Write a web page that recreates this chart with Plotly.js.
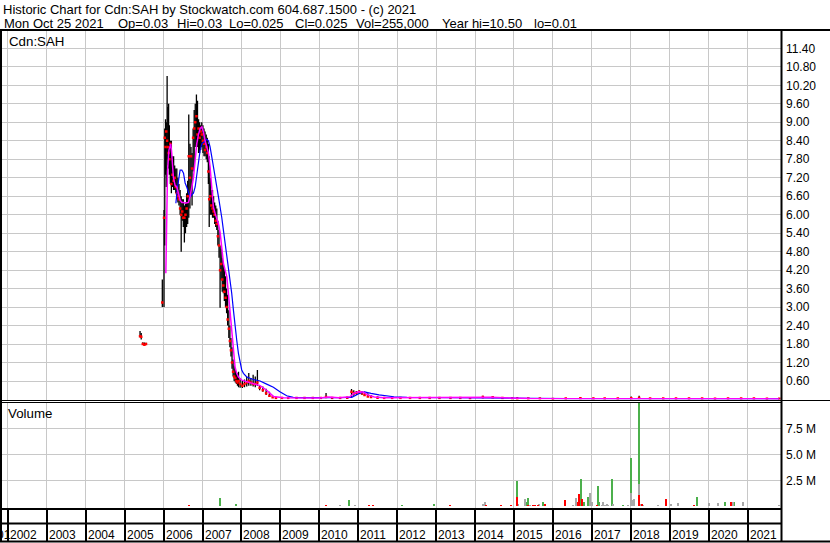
<!DOCTYPE html>
<html><head><meta charset="utf-8">
<script src="https://cdn.plot.ly/plotly-3.0.1.min.js"></script>
<style>html,body{margin:0;padding:0;background:#fff}#chart{width:830px;height:543px}</style>
</head><body><div id="chart"></div>
<script>
// ---------- DATA ----------
const priceDates = ["2005-05-25","2005-06-05","2005-06-20","2005-07-05","2005-07-20",
"2005-12-20","2006-01-05","2006-01-12","2006-01-19","2006-01-26","2006-02-03","2006-02-10","2006-02-17","2006-02-24",
"2006-03-05","2006-03-15","2006-03-25","2006-04-05","2006-04-15","2006-04-25","2006-05-05","2006-05-15","2006-05-25",
"2006-06-05","2006-06-15","2006-06-25","2006-07-05","2006-07-15","2006-07-25","2006-08-05","2006-08-15","2006-08-25",
"2006-09-05","2006-09-15","2006-09-25","2006-10-05","2006-10-15","2006-10-25","2006-11-05","2006-11-15","2006-11-25",
"2006-12-05","2006-12-15","2006-12-25","2007-01-05","2007-01-15","2007-01-25","2007-02-05","2007-02-15","2007-02-25",
"2007-03-05","2007-03-15","2007-03-25","2007-04-05","2007-04-15","2007-04-25","2007-05-05","2007-05-15","2007-05-25",
"2007-06-05","2007-06-15","2007-06-25","2007-07-05","2007-07-15","2007-07-25","2007-08-05","2007-08-15","2007-08-25",
"2007-09-05","2007-09-15","2007-09-25","2007-10-05","2007-10-15","2007-10-25","2007-11-05","2007-11-15","2007-11-25",
"2007-12-05","2007-12-20","2008-01-10","2008-01-30","2008-02-20","2008-03-10","2008-03-30","2008-04-20","2008-05-10",
"2008-05-30","2008-06-20","2008-07-20","2008-08-20","2008-09-20","2008-10-20","2008-11-20","2009-01-15",
"2009-03-15","2009-06-01","2009-08-15","2009-11-01","2010-01-15","2010-03-05","2010-05-01","2010-07-15","2010-09-20",
"2010-10-30","2010-11-20","2010-12-15","2011-01-10","2011-02-05","2011-03-01","2011-04-01","2011-05-01","2011-07-01",
"2011-09-01","2011-11-15","2012-02-01","2012-05-01","2012-08-01","2012-11-01","2013-02-01","2013-05-15","2013-08-15",
"2013-11-15","2014-03-15","2014-06-15","2014-09-15","2014-12-15","2015-02-01","2015-05-15","2015-09-01","2016-01-01",
"2016-05-01","2016-09-15","2017-01-15","2017-05-01","2017-09-01","2018-01-05","2018-03-20","2018-07-01","2018-11-01",
"2019-03-01","2019-07-01","2019-11-01","2020-03-01","2020-07-01","2020-11-01","2021-03-01","2021-07-01","2021-10-25"];
const priceHigh = [2.22,2.16,1.86,1.85,1.84,
3.90,6.15,8.80,9.10,9.00,10.50,9.50,9.60,8.90,
8.40,8.40,7.90,7.90,7.60,7.50,7.50,7.20,7.00,
6.80,6.60,6.50,6.50,6.30,6.40,6.70,7.10,9.25,
8.30,8.20,8.00,8.80,9.40,9.60,9.90,9.70,9.10,
9.00,8.90,9.00,8.90,8.80,8.70,8.60,8.50,8.30,
7.90,7.20,6.80,6.80,6.60,6.40,6.30,6.20,5.80,
5.50,5.00,4.90,4.60,4.40,4.30,4.00,3.60,3.40,
2.90,2.40,2.00,1.70,1.30,1.10,1.00,0.90,0.85,
0.90,0.70,0.60,0.65,0.75,0.86,0.70,0.80,0.75,
0.96,0.45,0.42,0.35,0.25,0.12,0.08,0.06,
0.06,0.06,0.07,0.06,0.06,0.21,0.08,0.07,0.09,
0.34,0.30,0.28,0.30,0.28,0.25,0.20,0.15,0.10,
0.08,0.07,0.07,0.07,0.06,0.07,0.06,0.07,0.06,
0.06,0.12,0.09,0.07,0.06,0.08,0.05,0.04,0.04,
0.05,0.08,0.06,0.05,0.04,0.10,0.12,0.05,0.04,
0.04,0.04,0.04,0.04,0.05,0.04,0.04,0.04,0.03];
const priceLow = [2.02,1.95,1.77,1.76,1.77,
3.00,3.00,5.00,7.30,6.90,7.80,7.60,7.50,7.30,
7.00,6.70,6.90,6.80,6.80,6.70,6.50,6.40,6.30,
6.00,4.80,5.80,5.60,5.10,5.40,5.60,5.70,5.90,
6.20,6.60,6.30,7.40,7.50,8.20,8.30,8.20,8.00,
8.00,8.10,8.20,8.00,7.90,7.90,7.80,7.70,7.00,
5.60,6.00,6.00,5.90,5.90,5.70,5.60,5.50,5.00,
4.60,2.98,3.90,3.50,3.45,3.20,3.00,2.80,2.40,
2.00,1.70,1.40,1.00,0.75,0.60,0.55,0.50,0.45,
0.40,0.38,0.37,0.40,0.42,0.45,0.45,0.42,0.40,
0.45,0.30,0.25,0.15,0.08,0.05,0.03,0.03,
0.03,0.04,0.04,0.04,0.04,0.05,0.04,0.04,0.04,
0.08,0.12,0.15,0.18,0.15,0.12,0.08,0.06,0.05,
0.04,0.04,0.04,0.04,0.04,0.04,0.04,0.04,0.04,
0.03,0.04,0.05,0.04,0.03,0.02,0.02,0.02,0.02,
0.02,0.02,0.02,0.02,0.02,0.02,0.03,0.02,0.02,
0.02,0.02,0.02,0.02,0.02,0.02,0.02,0.02,0.025];
const priceClose = [2.05,2.04,1.80,1.78,1.80,
3.15,5.90,8.50,8.20,8.70,8.40,8.20,8.00,7.80,
8.30,7.00,7.30,7.10,7.20,6.90,6.70,6.60,6.50,
6.20,6.00,6.10,5.90,5.90,6.00,6.20,6.60,7.90,
7.20,7.90,7.50,8.50,8.80,9.00,9.20,8.60,8.80,
8.50,8.70,8.60,8.40,8.30,8.10,8.20,8.00,7.40,
6.50,6.60,6.30,6.20,6.10,6.00,5.80,5.70,5.30,
5.00,4.20,4.40,3.90,3.70,3.50,3.30,3.00,2.60,
2.30,1.90,1.60,1.20,0.90,0.75,0.70,0.60,0.55,
0.60,0.50,0.45,0.50,0.55,0.60,0.55,0.50,0.50,
0.55,0.38,0.30,0.20,0.12,0.07,0.05,0.05,
0.05,0.05,0.05,0.05,0.05,0.08,0.05,0.05,0.06,
0.25,0.20,0.22,0.25,0.20,0.15,0.10,0.08,0.06,
0.05,0.05,0.05,0.05,0.05,0.05,0.05,0.05,0.05,
0.04,0.08,0.07,0.05,0.04,0.03,0.03,0.03,0.02,
0.03,0.04,0.03,0.03,0.03,0.04,0.05,0.03,0.03,
0.03,0.03,0.03,0.025,0.03,0.03,0.03,0.025,0.025];

const maFastDates = ["2006-01-22","2006-01-30","2006-02-07","2006-02-20","2006-03-09","2006-03-18","2006-04-03","2006-04-19",
"2006-05-05","2006-06-05","2006-06-21","2006-07-07","2006-07-22","2006-08-22","2006-09-07","2006-09-23","2006-10-08",
"2006-10-24","2006-11-08","2006-11-24","2006-12-10","2006-12-26","2007-01-10","2007-01-25","2007-02-10","2007-02-26",
"2007-03-13","2007-03-28","2007-04-13","2007-04-29","2007-05-15","2007-05-31","2007-06-16","2007-07-01","2007-07-16",
"2007-08-01","2007-08-17","2007-09-01","2007-09-17","2007-10-02","2007-10-18","2007-11-02","2007-11-18","2007-12-04",
"2008-01-04","2008-02-20","2008-04-22","2008-06-24","2008-08-25","2008-10-27","2009-01-29","2009-06-01","2010-01-01",
"2010-04-01","2010-07-01","2010-10-15","2010-11-20","2011-01-01","2011-02-15","2011-04-01","2011-06-01","2011-09-01",
"2012-06-01","2013-06-01","2014-06-01","2015-06-01","2016-06-01","2017-06-01","2018-06-01","2019-06-01","2020-06-01","2021-10-25"];
const maFastVals = [4.1,6.0,7.4,8.1,8.3,8.0,7.2,6.95,
6.9,6.47,6.4,6.4,6.37,6.4,6.6,6.9,7.2,
7.77,8.3,8.6,8.8,8.85,8.68,8.4,8.2,8.0,
7.55,6.8,6.25,6.05,5.9,5.7,5.4,4.95,4.43,
4.2,3.98,3.45,2.8,2.04,1.5,1.06,0.85,0.73,
0.63,0.58,0.53,0.45,0.3,0.1,0.06,0.05,0.05,
0.08,0.06,0.09,0.2,0.25,0.24,0.15,0.08,0.06,
0.06,0.06,0.07,0.03,0.03,0.03,0.03,0.02,0.02,0.02];

const maSlowDates = ["2006-04-26","2006-05-12","2006-06-05","2006-06-21","2006-07-07","2006-07-22","2006-08-06","2006-08-22",
"2006-09-07","2006-09-23","2006-10-08","2006-10-24","2006-11-08","2006-11-24","2006-12-10","2006-12-26","2007-01-10",
"2007-01-25","2007-02-10","2007-02-26","2007-03-13","2007-03-28","2007-04-13","2007-04-29","2007-05-15","2007-05-31",
"2007-06-16","2007-07-01","2007-07-16","2007-08-01","2007-08-17","2007-09-01","2007-09-17","2007-10-02","2007-10-18",
"2007-11-02","2007-11-18","2007-12-04","2007-12-20","2008-01-04","2008-01-20","2008-02-20","2008-04-22","2008-06-24",
"2008-08-25","2008-10-27","2008-12-27","2009-03-01","2009-05-01","2009-07-01","2010-06-01","2010-11-01","2011-01-01",
"2011-03-01","2011-05-01","2011-07-15","2011-12-01","2012-04-01","2013-06-01","2014-06-01","2015-06-01","2016-06-01",
"2017-06-01","2018-06-01","2019-06-01","2020-06-01","2021-10-25"];
const maSlowVals = [6.37,6.9,7.45,7.45,7.35,7.03,6.9,6.7,
6.57,6.65,6.7,6.9,7.3,7.77,8.1,8.3,8.35,
8.4,8.45,8.4,8.2,7.9,7.55,7.1,6.9,6.57,
6.25,5.9,5.5,5.08,4.76,4.3,3.88,3.45,2.9,
2.36,1.93,1.5,1.18,0.96,0.85,0.73,0.65,0.6,
0.5,0.4,0.25,0.12,0.07,0.06,0.06,0.07,0.18,
0.25,0.2,0.15,0.09,0.07,0.06,0.06,0.04,0.03,
0.03,0.03,0.02,0.02,0.02];

const volUpDates = ["2007-06-17","2007-11-07","2010-10-10","2011-11-10","2012-02-19","2012-04-19","2012-06-23","2012-12-13",
"2015-01-27","2015-02-27","2015-04-30","2015-05-13","2015-10-04","2016-09-19","2016-10-19","2016-11-29","2017-02-28",
"2017-03-09","2017-07-10","2017-10-23","2017-11-17","2018-01-01","2018-03-17","2019-09-15","2020-06-07","2020-08-24"];
const volUpVals = [800000,200000,600000,80000,100000,80000,80000,200000,
2440000,60000,380000,800000,420000,2630000,380000,900000,1960000,
380000,2630000,130000,60000,4710000,10300000,900000,450000,380000];

const volDownDates = ["2006-08-26","2010-03-05","2011-04-16","2011-05-17","2013-05-12","2013-10-07","2014-04-10","2014-05-30",
"2014-08-29","2014-12-01","2015-01-27","2015-05-16","2015-07-02","2015-07-17","2015-08-18","2015-10-19","2016-02-21",
"2016-04-24","2016-08-22","2016-09-06","2016-09-28","2017-02-16","2018-03-17","2018-04-20","2018-11-27","2019-05-10",
"2019-05-25","2019-08-18","2020-07-28"];
const volDownVals = [100000,100000,130000,130000,150000,80000,100000,60000,
100000,100000,930000,100000,130000,100000,130000,220000,50000,
600000,420000,1150000,700000,130000,1090000,220000,700000,50000,
60000,160000,420000];

const volFlatDates = ["2010-07-13","2010-11-28","2014-03-18","2014-04-01","2015-02-11","2015-04-15","2015-06-01","2015-08-27",
"2016-06-10","2016-07-11","2016-08-06","2016-11-07","2016-12-15","2017-01-03","2017-04-04","2017-04-19","2017-05-05",
"2017-05-21","2017-06-05","2017-07-22","2017-09-07","2017-12-09","2018-01-01","2018-01-20","2018-02-04","2018-03-17",
"2018-03-29","2018-04-29","2018-08-26","2018-09-17","2019-01-11","2019-03-17","2019-11-28","2020-01-02","2020-03-27",
"2020-08-21","2020-11-19","2021-10-07","2021-10-22"];
const volFlatVals = [150000,100000,220000,380000,200000,700000,100000,220000,
60000,130000,800000,60000,1280000,450000,130000,420000,130000,
220000,130000,220000,60000,130000,1280000,600000,700000,2150000,
220000,130000,60000,130000,220000,320000,60000,320000,320000,
450000,420000,60000,130000];

const priceTickVals = [0.6,1.2,1.8,2.4,3.0,3.6,4.2,4.8,5.4,6.0,6.6,7.2,7.8,8.4,9.0,9.6,10.2,10.8,11.4];
const volTickVals = [2500000,5000000,7500000];
const volTickText = ["2.5 M","5.0 M","7.5 M"];
const yearLabels = ["2002","2003","2004","2005","2006","2007","2008","2009","2010","2011","2012","2013","2014","2015","2016","2017","2018","2019","2020","2021"];

const headerLine1 = "Historic Chart for Cdn:SAH by Stockwatch.com 604.687.1500 - (c) 2021";
const headerFields = ["Mon Oct 25 2021","Op=0.03","Hi=0.03","Lo=0.025","Cl=0.025","Vol=255,000","Year hi=10.50","lo=0.01"];

// ---------- LAYOUT HELPERS ----------
const W = 830, H = 543, ML = 2, MR = 49, MT = 31, MB = 34;
const PW = W - ML - MR, PH = H - MT - MB;
const xp = px => (px - ML) / PW;
const yp = py => (H - MB - py) / PH;
const FONT = "Liberation Sans, Arial, sans-serif";
const nb = s => s.replace(/ /g, "\u00a0");

// price bars built from arrays
const hlX = [], hlY = [];
priceDates.forEach((d, i) => { hlX.push(d, d, null); hlY.push(priceLow[i], priceHigh[i], null); });

const barW = 1.6e9;
const traces = [
  {type:"scatter", mode:"lines", x:hlX, y:hlY, line:{color:"#000", width:1.3}, xaxis:"x", yaxis:"y", connectgaps:false},
  {type:"scatter", mode:"markers", x:priceDates, y:priceClose, marker:{symbol:"square", size:2.5, color:"#ff0000", line:{width:0}}, xaxis:"x", yaxis:"y"},
  {type:"scatter", mode:"lines", x:maSlowDates, y:maSlowVals, line:{color:"#0000ff", width:1.2}, xaxis:"x", yaxis:"y"},
  {type:"scatter", mode:"lines", x:maFastDates, y:maFastVals, line:{color:"#ff00ff", width:1.5}, xaxis:"x", yaxis:"y"},
  {type:"bar", x:volUpDates, y:volUpVals, width:barW, marker:{color:"#4cb04c", line:{width:0}}, xaxis:"x", yaxis:"y2"},
  {type:"bar", x:volFlatDates, y:volFlatVals, width:barW, marker:{color:"#a8a8a8", line:{width:0}}, xaxis:"x", yaxis:"y2"},
  {type:"bar", x:volDownDates, y:volDownVals, width:barW, marker:{color:"#ff0000", line:{width:0}}, xaxis:"x", yaxis:"y2"}
];

const line = (x0, y0, x1, y1, w) => ({type:"line", xref:"paper", yref:"paper", x0:xp(x0), y0:yp(y0), x1:xp(x1), y1:yp(y1), line:{color:"#000", width:w}, layer:"above"});
const shapes = [
  line(0, 30, 830, 30, 2),
  line(1, 30, 1, 542, 2),
  line(781.5, 30, 781.5, 542, 2),
  line(0, 400.5, 830, 400.5, 1),
  line(0, 402.5, 781.5, 402.5, 1),
  line(0, 509, 781.5, 509, 2),
  line(0, 523.5, 781.5, 523.5, 2),
  line(0, 541.5, 830, 541.5, 2)
];

const HF = 13;
const ann = (text, px, py, extra) => Object.assign({text:nb(text), xref:"paper", yref:"paper", x:xp(px), y:yp(py), xanchor:"left", yanchor:"middle", showarrow:false, borderpad:0, font:{family:FONT, size:HF, color:"#000"}}, extra || {});
const fieldX = [3, 117, 176, 228, 294, 355, 441, 533];
const annotations = [
  ann(headerLine1, 2, 9.2),
  ann("Cdn:SAH", 8, 42, {font:{family:FONT, size:13.3, color:"#000"}}),
  ann("Volume", 7, 413, {font:{family:FONT, size:13.3, color:"#000"}}),
  ann("01", 11.5, 534.5, {xanchor:"right", font:{family:FONT, size:12, color:"#000"}})
];
headerFields.forEach((t, i) => annotations.push(ann(t, fieldX[i], 24)));
yearLabels.forEach(y => annotations.push({text:y, xref:"x", yref:"paper", x:y + "-01-01", y:yp(534.5), xanchor:"left", yanchor:"middle", xshift:1, borderpad:0, showarrow:false, font:{family:FONT, size:12, color:"#000"}}));

const layout = {
  width:W, height:H,
  margin:{l:ML, r:MR, t:MT, b:MB, pad:0},
  paper_bgcolor:"#fff", plot_bgcolor:"#fff",
  showlegend:false, hovermode:false, barmode:"overlay", bargap:0,
  font:{family:FONT, size:12, color:"#000"},
  xaxis:{type:"date", range:["2001-11-07","2021-11-10"], tickmode:"linear", tick0:"2002-01-01", dtick:"M12",
         showgrid:true, gridcolor:"#c8c8c8", gridwidth:1, ticks:"outside", ticklen:32, tickwidth:2, tickcolor:"#000",
         showticklabels:false, showline:false, zeroline:false, anchor:"y2"},
  yaxis:{domain:[yp(399.5), 1], range:[0, 11.964], side:"right", tickmode:"array", tickvals:priceTickVals, tickformat:".2f",
         showgrid:true, gridcolor:"#c8c8c8", gridwidth:1, ticks:"", showline:false, zeroline:false, ticklabelstandoff:4,
         tickfont:{family:FONT, size:12, color:"#000"}, anchor:"x"},
  yaxis2:{domain:[0, yp(402)], range:[-256000, 10090000], side:"right", tickmode:"array", tickvals:volTickVals, ticktext:volTickText,
          showgrid:true, gridcolor:"#c8c8c8", gridwidth:1, ticks:"", showline:false, zeroline:false, ticklabelstandoff:4,
          tickfont:{family:FONT, size:12, color:"#000"}, anchor:"x"},
  shapes:shapes, annotations:annotations
};

Plotly.newPlot("chart", traces, layout, {staticPlot:true, displayModeBar:false});
</script>
</body></html>
